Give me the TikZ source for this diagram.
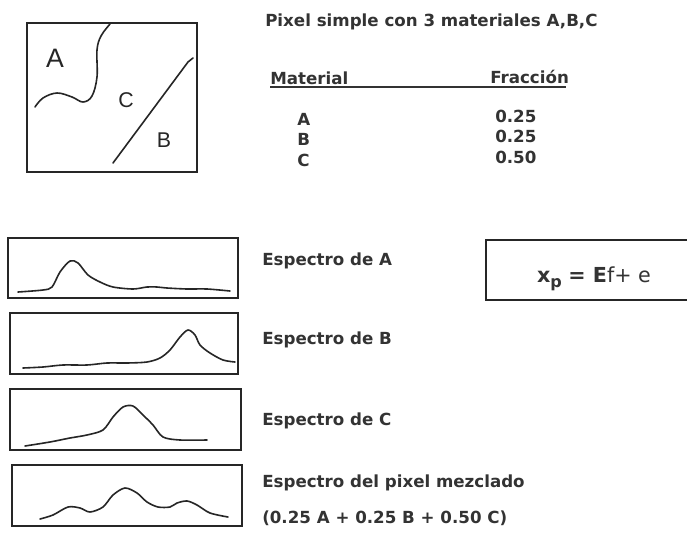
\documentclass[tikz,border=0pt]{standalone}
\usepackage{fontspec}
\setmainfont{DejaVu Sans}
\newfontfamily\handfont{Liberation Sans}
\begin{document}
\begin{tikzpicture}[x=0.75pt,y=-0.75pt,
  frame/.style={draw=black!85, line width=2.2pt},
  specbox/.style={draw=black!85, line width=1.5pt},
  spec/.style={draw=black!85, line width=1.2pt, line join=round, line cap=round},
  lbl/.style={anchor=west, inner sep=0pt, font=\bfseries\fontsize{12.5}{14}\selectfont, text=black!80},
  hand/.style={inner sep=0pt, font=\handfont\fontsize{16}{18}\selectfont, text=black!85}]
\useasboundingbox[fill=white] (0,0) rectangle (687,533);

% pixel square
\draw[frame] (27,23) rectangle (197,172);
\draw[spec] plot[smooth, tension=0.6] coordinates {(110,24) (101,36) (97,50) (97,77) (92,96) (83,102) (72,97) (57,93) (43,98) (35,107)};
\draw[spec] (113,163) -- (188,62) -- (193,58);
\node[hand, font=\handfont\fontsize{20}{22}\selectfont] (lA) at (55,58) {A};
\node[hand] (lC) at (126,100) {C};
\node[hand] (lB) at (164,140) {B};

% table
\node[lbl] (title) at (265,22) {Pixel simple con 3 materiales A,B,C};
\node[lbl] (mat) at (270,78) {Material};
\node[lbl] (fra) at (490,77) {Fracción};
\draw[line width=1.2pt, black!80] (270,87) -- (566,87);
\node[lbl] (mA) at (297,119) {A};
\node[lbl] (mB) at (297,139) {B};
\node[lbl] (mC) at (297,160) {C};
\node[lbl] (fA) at (495,116) {0.25};
\node[lbl] (fB) at (495,136) {0.25};
\node[lbl] (fC) at (495,157.5) {0.50};

% spectra boxes
\draw[specbox] (8,238) rectangle (238,298);
\draw[specbox] (10,313) rectangle (238,374);
\draw[specbox] (10,389) rectangle (241,450);
\draw[specbox] (12,465) rectangle (242,526);

\draw[spec] plot[smooth, tension=0.5] coordinates {(18,292) (43,290) (52,287) (60,272) (70,261) (78,263) (88,275) (100,282) (113,287) (133,289) (147,287) (157,287) (167,288) (187,289) (207,289) (230,291)};
\draw[spec] plot[smooth, tension=0.5] coordinates {(23,368) (43,367) (63,365) (87,365) (107,363) (127,363) (147,362) (160,358) (170,350) (180,337) (188,330) (195,335) (200,345) (210,353) (223,360) (235,362)};
\draw[spec] plot[smooth, tension=0.5] coordinates {(25,446) (50,442) (70,438) (87,435) (103,430) (113,417) (123,407) (133,406) (143,415) (153,425) (163,437) (180,440) (207,440)};
\draw[spec] plot[smooth, tension=0.5] coordinates {(40,519) (53,515) (68,507) (80,508) (90,512) (103,507) (113,495) (125,488) (137,493) (147,502) (158,507) (170,507) (177,503) (187,501) (197,505) (210,513) (228,517)};

\node[lbl] (sA) at (262,261) {Espectro de A};
\node[lbl] (sB) at (262,340) {Espectro de B};
\node[lbl] (sC) at (262,421) {Espectro de C};
\node[lbl] (sM) at (262,483) {Espectro del pixel mezclado};
\node[lbl] (sF) at (262,518) {(0.25 A + 0.25 B + 0.50 C)};

% equation box (right side runs off the picture)
\draw[specbox] (692,240) -- (486,240) -- (486,300) -- (692,300);
\node[anchor=center, inner sep=0pt, font=\fontsize{15.5}{18}\selectfont, text=black!80] (eq) at (594,279)
  {\textbf{x}\raisebox{-0.45ex}{\textbf{\fontsize{12}{14}\selectfont p}} \textbf{= E}f+ e};
\end{tikzpicture}
\end{document}
